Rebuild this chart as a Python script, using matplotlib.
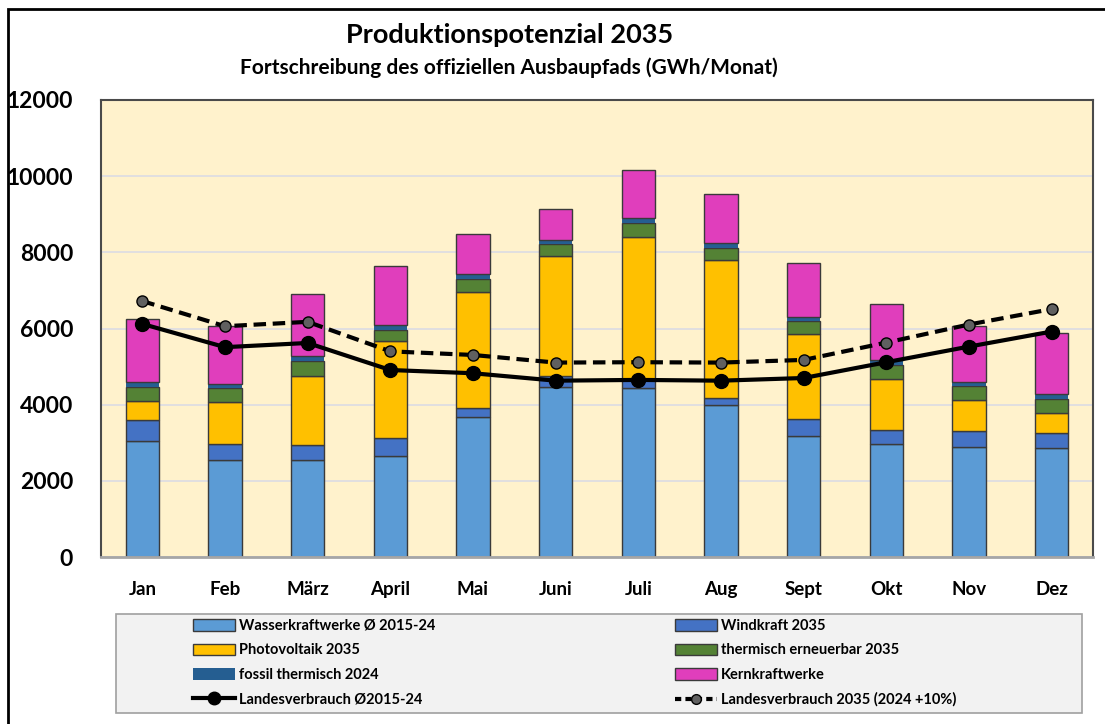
import matplotlib
matplotlib.use('Agg')
import matplotlib.pyplot as plt
from matplotlib.patches import Rectangle, Patch
from matplotlib.lines import Line2D
import numpy as np

plt.rcParams['font.family'] = ['Lato', 'DejaVu Sans']

# daten (GWh/Monat)
monate = ['Jan', 'Feb', 'März', 'April', 'Mai', 'Juni',
          'Juli', 'Aug', 'Sept', 'Okt', 'Nov', 'Dez']
wasser = [3050, 2540, 2560, 2640, 3680, 4460, 4440, 3990, 3180, 2970, 2900, 2850]
wind = [550, 425, 390, 475, 245, 305, 195, 185, 455, 370, 410, 400]
pv = [505, 1105, 1800, 2545, 3045, 3140, 3770, 3615, 2230, 1340, 800, 520]
therm_ern = [360, 370, 385, 305, 335, 315, 360, 325, 340, 360, 370, 375]
fossil = [140, 115, 130, 130, 115, 115, 130, 125, 100, 125, 120, 130]
kern = [1650, 1510, 1650, 1545, 1055, 815, 1265, 1280, 1405, 1475, 1465, 1605]
verbrauch = [6120, 5510, 5620, 4910, 4825, 4630, 4650, 4630, 4700, 5115, 5525, 5920]
verbrauch_2035 = [6720, 6060, 6175, 5400, 5305, 5105, 5115, 5105, 5175, 5630, 6105, 6510]

serien = [
    ('Wasserkraftwerke Ø 2015-24', wasser, '#5B9BD5', '#3a3a3a'),
    ('Windkraft 2035', wind, '#4472C4', '#3a3a3a'),
    ('Photovoltaik 2035', pv, '#FFC000', '#3a3a3a'),
    ('thermisch erneuerbar 2035', therm_ern, '#548235', '#3a3a3a'),
    ('fossil thermisch 2024', fossil, '#255E91', 'none'),
    ('Kernkraftwerke', kern, '#E03EBC', '#3a3a3a'),
]

fig = plt.figure(figsize=(11.05, 7.24), dpi=100)
ax = fig.add_axes([101/1105, 1 - 557/724, 992/1105, 457/724])
ax.set_facecolor('#FFF2CC')

x = np.arange(len(monate))
bottom = np.zeros(len(monate))
handles = {}
for name, vals, col, ec in serien:
    b = ax.bar(x, vals, width=0.4, bottom=bottom, color=col,
               edgecolor=ec, linewidth=1.0, zorder=2)
    bottom += np.array(vals)
    handles[name] = Patch(facecolor=col, edgecolor=ec, linewidth=1.0)

ax.plot(x, verbrauch, '-', color='black', lw=3, marker='o', ms=10,
        mfc='black', mec='black', zorder=4)
ax.plot(x, verbrauch_2035, '--', color='black', lw=3, dashes=(3, 1.6),
        marker='o', ms=8, mfc='#606060', mec='black', mew=1, zorder=4)

ax.set_xlim(-0.5, 11.5)
ax.set_ylim(0, 12000)
ax.set_yticks(np.arange(0, 12001, 2000))
ax.yaxis.grid(True, color='#DCDCE4', lw=1.2, zorder=0)
ax.set_axisbelow(True)
ax.set_xticks(x)
ax.set_xticklabels(monate)
ax.tick_params(axis='y', length=0, pad=20, labelsize=16.5)
ax.tick_params(axis='x', length=0, pad=17, labelsize=13.5)
for lbl in ax.get_xticklabels() + ax.get_yticklabels():
    lbl.set_fontweight('bold')
for s in ['left', 'top', 'right']:
    ax.spines[s].set_color('#4a4a4a')
    ax.spines[s].set_linewidth(1.5)
ax.spines['bottom'].set_color('#A6A6A6')
ax.spines['bottom'].set_linewidth(2)

# titel
fig.text(510/1105, 1 - 35/724, 'Produktionspotenzial 2035', ha='center',
         va='center', fontsize=19.5, fontweight='bold')
fig.text(509/1105, 1 - 68/724, 'Fortschreibung des offiziellen Ausbaupfads (GWh/Monat)',
         ha='center', va='center', fontsize=15, fontweight='bold')

# rahmen
fig.patches.append(Rectangle((8/1105, -0.05), 1.1, 1 - 9/724 + 0.05,
                             transform=fig.transFigure, fill=False,
                             edgecolor='black', lw=2))
# legende
fig.patches.append(Rectangle((116/1105, 1 - 713/724), 966/1105, 99/724,
                             transform=fig.transFigure, facecolor='#F2F2F2',
                             edgecolor='#A0A0A0', lw=1.2))

l_solid = Line2D([], [], color='black', lw=3, marker='o', ms=9, mfc='black')
l_dash = Line2D([], [], color='black', lw=3, ls='--', dashes=(1.5, 1), marker='o',
                ms=7, mfc='#606060', mec='black')

links = [handles['Wasserkraftwerke Ø 2015-24'], handles['Photovoltaik 2035'],
         handles['fossil thermisch 2024'], l_solid]
links_lbl = ['Wasserkraftwerke Ø 2015-24', 'Photovoltaik 2035',
             'fossil thermisch 2024', 'Landesverbrauch Ø2015-24']
rechts = [handles['Windkraft 2035'], handles['thermisch erneuerbar 2035'],
          handles['Kernkraftwerke'], l_dash]
rechts_lbl = ['Windkraft 2035', 'thermisch erneuerbar 2035', 'Kernkraftwerke',
              'Landesverbrauch 2035 (2024 +10%)']

kw = dict(loc='upper left', frameon=False, borderpad=0, borderaxespad=0,
          handlelength=2.85, handleheight=0.8, handletextpad=0.3,
          labelspacing=0.72, prop={'size': 10.5, 'weight': 'bold'})
leg1 = fig.legend(links, links_lbl, bbox_to_anchor=(193/1105, 1 - 619/724), **kw)
leg2 = fig.legend(rechts, rechts_lbl, bbox_to_anchor=(675/1105, 1 - 619/724), **kw)

fig.savefig('out.png', dpi=100)
